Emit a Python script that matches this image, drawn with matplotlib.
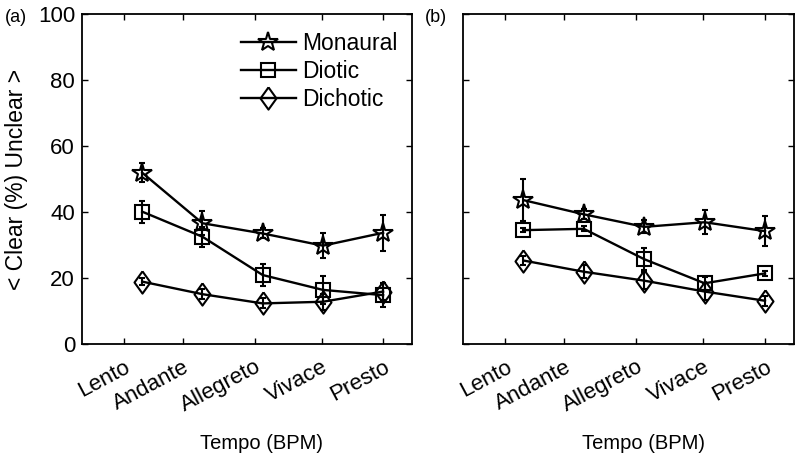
import matplotlib
matplotlib.use("Agg")
import matplotlib.pyplot as plt
import numpy as np

plt.rcParams['font.family'] = ['Liberation Sans', 'DejaVu Sans']

tempos = ["Lento", "Andante", "Allegreto", "Vivace", "Presto"]
conditions = ["Monaural", "Diotic", "Dichotic"]

# Panel (a)
a_monaural = [51.9, 36.6, 33.5, 29.8, 33.7]
a_monaural_err = [2.8, 3.7, 1.5, 3.7, 5.4]
a_diotic = [40.1, 32.5, 20.9, 16.4, 14.8]
a_diotic_err = [3.3, 3.0, 3.3, 4.3, 3.7]
a_dichotic = [18.9, 15.1, 12.3, 12.8, 15.9]
a_dichotic_err = [1.0, 1.5, 1.5, 2.5, 2.5]

# Panel (b)
b_monaural = [43.6, 39.3, 35.5, 36.9, 34.2]
b_monaural_err = [6.4, 1.5, 2.0, 3.7, 4.6]
b_diotic = [34.5, 34.9, 25.7, 18.4, 21.4]
b_diotic_err = [0.5, 0.8, 3.3, 2.0, 0.8]
b_dichotic = [25.3, 21.9, 19.2, 15.9, 13.1]
b_dichotic_err = [1.5, 2.0, 2.5, 2.5, 1.5]

y_ticks = [0, 20, 40, 60, 80, 100]

# layout constants
x_data = np.arange(1, 6)
tick_pos = [0.70, 1.68, 2.87, 3.98, 5.0]

diamond = [(0, 1), (0.72, 0), (0, -1), (-0.72, 0), (0, 1)]
markers = {"Monaural": ("*", 15), "Diotic": ("s", 9.5), "Dichotic": (diamond, 16)}

fig = plt.figure(figsize=(8.0, 4.61), dpi=100)
W, H = 800, 461
def ax_rect(l, r, t, b):
    return [l / W, (H - b) / H, (r - l) / W, (b - t) / H]

axA = fig.add_axes(ax_rect(82, 412, 14, 344))
axB = fig.add_axes(ax_rect(463, 794, 14, 344))

panels = [
    (axA, [(a_monaural, a_monaural_err), (a_diotic, a_diotic_err), (a_dichotic, a_dichotic_err)]),
    (axB, [(b_monaural, b_monaural_err), (b_diotic, b_diotic_err), (b_dichotic, b_dichotic_err)]),
]

handles = []
for ax, series in panels:
    hs = []
    for name, (vals, errs) in zip(conditions, series):
        m, ms = markers[name]
        ax.errorbar(x_data, vals, yerr=errs, fmt='none', ecolor='black',
                    elinewidth=1.5, capsize=2.0, capthick=1.5)
        ln, = ax.plot(x_data, vals, color='black', lw=1.7,
                      marker=m, markersize=ms, markerfacecolor='none',
                      markeredgecolor='black', markeredgewidth=1.5, label=name)
        hs.append(ln)
    handles.append(hs)
    ax.set_xlim(0, 5.48)
    ax.set_ylim(0, 100)
    ax.set_xticks(tick_pos)
    ax.set_xticklabels(tempos, rotation=28, ha='right', va='top',
                       rotation_mode='anchor', fontsize=14)
    ax.set_yticks(y_ticks)
    ax.tick_params(direction='in', length=4, width=1.0, top=True, right=True,
                   labelsize=16, pad=5)
    ax.tick_params(axis='x', pad=9)
    for sp in ax.spines.values():
        sp.set_linewidth(1.3)
    ax.set_xlabel("Tempo (BPM)", fontsize=14.5)
    ax.xaxis.set_label_coords(0.545, -0.303)
    ax.xaxis.label.set_va('center')

axB.set_yticklabels([])
axA.set_ylabel("< Clear (%) Unclear >", fontsize=16.5)
axA.yaxis.set_label_coords(-0.197, 0.5)
axA.yaxis.label.set_va('center')

leg = axA.legend(handles=handles[0], loc='upper right', frameon=False, fontsize=16.5,
                 handlelength=2.4, handletextpad=0.3, labelspacing=0.22,
                 borderaxespad=0.0, bbox_to_anchor=(0.985, 0.972))

fig.text(5 / W, 1 - 17 / H, "(a)", fontsize=13, va='center', ha='left')
fig.text(425 / W, 1 - 17 / H, "(b)", fontsize=13, va='center', ha='left')

fig.savefig("out.png", dpi=100)
